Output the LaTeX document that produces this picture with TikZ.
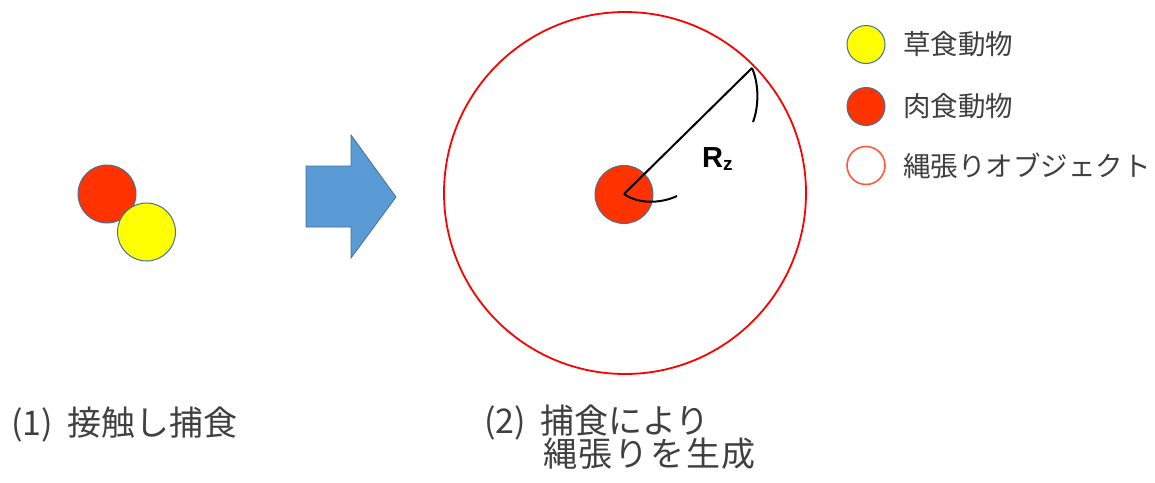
\documentclass[tikz,border=0pt]{standalone}
\usepackage{fontspec}
\setmainfont{Noto Sans CJK JP}
\newfontfamily\rzfont{Liberation Sans}
\definecolor{carn}{HTML}{FF3300}
\definecolor{herb}{HTML}{FFFF00}
\definecolor{rim}{HTML}{41719C}
\definecolor{arrowfill}{HTML}{5B9BD5}
\definecolor{terr}{HTML}{FF0000}
\definecolor{legterr}{HTML}{FF5A3C}
\definecolor{txt}{HTML}{404040}
\begin{document}
\begin{tikzpicture}[x=1pt,y=-1pt,
  carnivore/.style={circle,fill=carn,draw=rim,line width=1pt,inner sep=0pt,minimum size=58pt},
  herbivore/.style={circle,fill=herb,draw=rim,line width=1pt,inner sep=0pt,minimum size=58pt},
  legdot/.style={circle,draw=rim,line width=1pt,inner sep=0pt,minimum size=38pt},
  legtext/.style={anchor=west,inner sep=0pt,text=txt,font=\fontsize{27.5}{27.5}\selectfont},
  captext/.style={anchor=base west,inner sep=0pt,text=txt,font=\fontsize{34}{34}\selectfont},
  markline/.style={line width=2pt,black}]
\useasboundingbox (0,0) rectangle (1155,482);
% (1)
\node[carnivore] (c1) at (107,194) {};
\node[herbivore] (h1) at (146.5,232) {};
% arrow
\draw[fill=arrowfill,draw=rim,line width=0.8pt] (306,166) -- (351,166) -- (351,135) -- (396,197) -- (351,258) -- (351,227) -- (306,227) -- cycle;
% (2)
\node[circle,draw=terr,line width=1.8pt,inner sep=0pt,minimum size=362pt] (terr) at (625,193) {};
\node[carnivore] (c2) at (624,194.5) {};
\coordinate (cz) at (624,194);
\coordinate (edge) at (752,68);
\draw[markline] (cz) -- (edge);
\draw[markline] (cz) .. controls (640,205) and (662,203) .. (677,196);
\draw[markline] (edge) .. controls (759,84) and (759,106) .. (753,122);
\node[inner sep=0pt,anchor=base west] (rz) at (702,167) {\rzfont\bfseries\fontsize{29}{29}\selectfont R\raisebox{-3pt}{\fontsize{19}{19}\selectfont z}};
% legend
\node[legdot,fill=herb] (l1) at (866,44.5) {};
\node[legtext] (t1) at (903,44.5) {草食動物};
\node[legdot,fill=carn] (l2) at (866,106.5) {};
\node[legtext] (t2) at (903,106.5) {肉食動物};
\node[legdot,fill=white,draw=legterr,line width=1.6pt] (l3) at (866,165.5) {};
\node[legtext] (t3) at (903,165.5) {縄張りオブジェクト};
% captions
\node[captext] (cap1) at (11,435) {(1)\hspace{14pt}接触し捕食};
\node[captext] (cap2a) at (484,433) {(2)\hspace{14pt}捕食により};
\node[captext,font=\fontsize{34}{34}\selectfont\addfontfeature{LetterSpace=5}] (cap2b) at (543,466) {縄張りを生成};
\end{tikzpicture}
\end{document}
